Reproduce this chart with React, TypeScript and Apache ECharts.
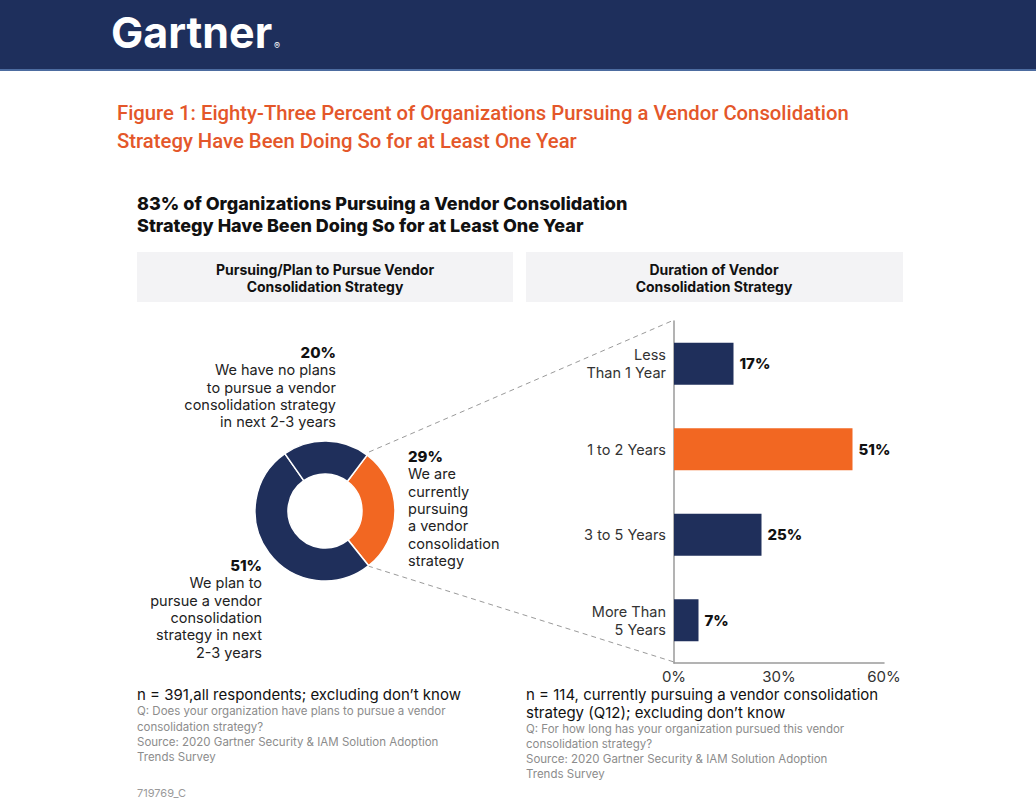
import React, { useEffect, useRef } from "react";
import * as echarts from "echarts";

// ---- data ----
const strategyNames = [
  "We are\ncurrently\npursuing\na vendor\nconsolidation\nstrategy",
  "We plan to\npursue a vendor\nconsolidation\nstrategy in next\n2-3 years",
  "We have no plans\nto pursue a vendor\nconsolidation strategy\nin next 2-3 years",
];
const strategyValues = [29, 51, 20];

const durationCategories = ["Less\nThan 1 Year", "1 to 2 Years", "3 to 5 Years", "More Than\n5 Years"];
const durationValues = [17, 51, 25, 7];
const highlightCategory = "1 to 2 Years";
const xTicks = [0, 30, 60];

const NAVY = "#1f2f5b";
const ORANGE = "#f26722";
const FONT = "Inter, 'Noto Sans', sans-serif";

export default function App() {
  const ref = useRef<HTMLDivElement>(null);
  useEffect(() => {
    if (!ref.current) return;
    const chart = echarts.init(ref.current, undefined, { renderer: "svg" });

    const labelPos: Record<number, any> = {
      0: { x: 408, y: 448, align: "left", verticalAlign: "top" },
      1: { x: 262, y: 557, align: "right", verticalAlign: "top" },
      2: { x: 336, y: 344, align: "right", verticalAlign: "top" },
    };

    const txt = (x: number, y: number, text: string, style: any, extra: any = {}) => ({
      type: "text",
      x,
      y,
      style: { text, fontFamily: FONT, verticalAlign: "middle", ...style },
      ...extra,
    });

    const gray = { fill: "#8c8c8c", fontSize: 11.5 };
    const note = { fill: "#111", fontSize: 15 };
    const orangeTitle = { fill: "#e4572a", fontSize: 20.3, fontFamily: "Roboto", fontWeight: 500 };
    const blackTitle = { fill: "#111", fontSize: 18, fontWeight: 800 };
    const panelHead = { fill: "#111", fontSize: 14, fontWeight: 700, align: "center" };

    chart.setOption({
      animation: false,
      backgroundColor: "#fff",
      textStyle: { fontFamily: FONT },
      graphic: [
        { type: "rect", shape: { x: 0, y: 0, width: 1036, height: 70 }, style: { fill: "#1e2f5c" } },
        { type: "rect", shape: { x: 0, y: 69, width: 1036, height: 2 }, style: { fill: "#4d6ca0" } },
        txt(111, 32, "Gartner", { fill: "#fff", fontSize: 43, fontWeight: "bold" }),
        txt(274, 45, "®", { fill: "#fff", fontSize: 9 }),
        txt(117, 113, "Figure 1: Eighty-Three Percent of Organizations Pursuing a Vendor Consolidation", orangeTitle),
        txt(117, 141, "Strategy Have Been Doing So for at Least One Year", orangeTitle),
        txt(137, 203, "83% of Organizations Pursuing a Vendor Consolidation", blackTitle),
        txt(137, 225, "Strategy Have Been Doing So for at Least One Year", blackTitle),
        { type: "rect", shape: { x: 137, y: 252, width: 376, height: 50 }, style: { fill: "#f3f3f5" } },
        { type: "rect", shape: { x: 526, y: 252, width: 377, height: 50 }, style: { fill: "#f3f3f5" } },
        txt(325, 269, "Pursuing/Plan to Pursue Vendor", panelHead),
        txt(325, 286, "Consolidation Strategy", panelHead),
        txt(714, 269, "Duration of Vendor", panelHead),
        txt(714, 286, "Consolidation Strategy", panelHead),
        {
          type: "line",
          shape: { x1: 369, y1: 452, x2: 674, y2: 320 },
          style: { stroke: "#9a9a9a", lineWidth: 1, lineDash: [5, 4] },
        },
        {
          type: "line",
          shape: { x1: 368, y1: 566, x2: 674, y2: 662 },
          style: { stroke: "#9a9a9a", lineWidth: 1, lineDash: [5, 4] },
        },
        txt(137, 694, "n = 391,all respondents; excluding don’t know", note),
        txt(137, 711, "Q: Does your organization have plans to pursue a vendor", gray),
        txt(137, 727, "consolidation strategy?", gray),
        txt(137, 742, "Source: 2020 Gartner Security & IAM Solution Adoption", gray),
        txt(137, 757, "Trends Survey", gray),
        txt(137, 793, "719769_C", { fill: "#9a9a9a", fontSize: 11 }),
        txt(526, 694, "n = 114, currently pursuing a vendor consolidation", note),
        txt(526, 712, "strategy (Q12); excluding don’t know", note),
        txt(526, 729, "Q: For how long has your organization pursued this vendor", gray),
        txt(526, 744, "consolidation strategy?", gray),
        txt(526, 759, "Source: 2020 Gartner Security & IAM Solution Adoption", gray),
        txt(526, 774, "Trends Survey", gray),
      ],
      grid: { left: 674, right: 152, top: 321, bottom: 137 },
      xAxis: {
        type: "value",
        min: xTicks[0],
        max: xTicks[xTicks.length - 1],
        interval: xTicks[1] - xTicks[0],
        axisLine: { show: true, lineStyle: { color: "#9a9a9a", width: 1.5 } },
        axisTick: { show: false },
        splitLine: { show: false },
        axisLabel: { formatter: "{value}%", color: "#333", fontSize: 15, margin: 6, fontFamily: FONT },
      },
      yAxis: {
        type: "category",
        inverse: true,
        data: durationCategories,
        axisLine: { show: true, lineStyle: { color: "#9a9a9a", width: 1.5 } },
        axisTick: { show: false },
        axisLabel: { color: "#333", fontSize: 14.5, lineHeight: 18, margin: 8, align: "right", fontFamily: FONT },
      },
      series: [
        {
          type: "pie",
          center: [325, 511],
          radius: [37, 70],
          startAngle: 53,
          clockwise: true,
          data: strategyNames.map((n, i) => ({
            name: n,
            value: strategyValues[i],
            itemStyle: { color: i === 0 ? ORANGE : NAVY },
          })),
          itemStyle: { borderColor: "#fff", borderWidth: 1.5 },
          label: {
            show: true,
            position: "outside",
            formatter: (p: any) => `{v|${p.value}%}\n{t|${p.name}}`,
            rich: {
              v: { fontSize: 15, fontWeight: 800, color: "#111", lineHeight: 17.3, fontFamily: FONT },
              t: { fontSize: 14.5, color: "#222", lineHeight: 17.3, fontFamily: FONT },
            },
          },
          labelLine: { show: false },
          labelLayout: (p: any) => labelPos[p.dataIndex],
          emphasis: { disabled: true },
        },
        {
          type: "bar",
          data: durationValues.map((v, i) => ({
            value: v,
            itemStyle: { color: durationCategories[i] === highlightCategory ? ORANGE : NAVY },
          })),
          barWidth: 42,
          label: {
            show: true,
            position: "right",
            distance: 6,
            formatter: "{c}%",
            fontWeight: 800,
            fontSize: 15,
            color: "#111",
            fontFamily: FONT,
          },
        },
      ],
    });
    return () => chart.dispose();
  }, []);
  return <div ref={ref} style={{ position: "fixed", left: 0, top: 0, width: 1036, height: 800 }} />;
}
